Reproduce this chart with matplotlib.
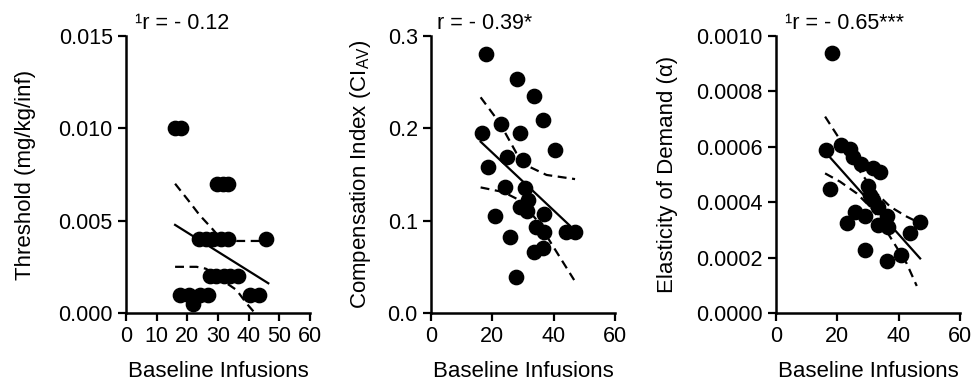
import matplotlib
matplotlib.use('Agg')
import matplotlib.pyplot as plt


plt.rcParams['font.family'] = ['Liberation Sans', 'DejaVu Sans']
plt.rcParams['mathtext.fontset'] = 'custom'
plt.rcParams['mathtext.rm'] = 'Liberation Sans'
plt.rcParams['mathtext.it'] = 'Liberation Sans:italic'


#threshold vs baseline infusions
thr_x = [16, 18, 29.7, 31.5, 33.3,
         23.8, 26, 28.4, 31, 33.3, 45.6,
         27.5, 29.5, 32, 34, 36.5,
         17.6, 20.5, 24, 26.7, 21.9, 40.5, 43.5]
thr_y = [0.010, 0.010, 0.007, 0.007, 0.007,
         0.004, 0.004, 0.004, 0.004, 0.004, 0.004,
         0.002, 0.002, 0.002, 0.002, 0.002,
         0.001, 0.001, 0.001, 0.001, 0.0005, 0.001, 0.001]
thr_fit_x = [16, 46.4]
thr_fit_y = [0.00477, 0.00161]
thr_up_x = [16, 20.3, 24, 27.9, 30, 32, 36, 40, 44, 46]
thr_up_y = [0.0070, 0.0061, 0.0053, 0.0046, 0.0042, 0.0040, 0.0039, 0.0039, 0.0039, 0.0040]
thr_lo_x = [16, 20, 23, 26, 29, 32, 36, 39.4, 42]
thr_lo_y = [0.0025, 0.0025, 0.0025, 0.0024, 0.0021, 0.0017, 0.00125, 0.0005, 0.0]

#compensation index vs baseline infusions
ci_x = [17.8, 27.9, 33.7, 23, 36.4, 16.5, 29, 40.4, 24.7, 30.1, 18.5, 24.3, 30.6,
        31.7, 29.0, 31.2, 21, 36.8, 34.2, 36.8, 44, 47, 25.8, 33.7, 36.6, 27.7]
ci_y = [0.28, 0.253, 0.235, 0.205, 0.209, 0.195, 0.195, 0.177, 0.169, 0.166, 0.158, 0.136, 0.135,
        0.122, 0.115, 0.110, 0.105, 0.107, 0.0935, 0.088, 0.088, 0.088, 0.082, 0.066, 0.070, 0.039]
ci_fit_x = [16.2, 45.3]
ci_fit_y = [0.1855, 0.0946]
ci_up_x = [16.2, 22.5, 27.9, 32.3, 37.7, 47]
ci_up_y = [0.2336, 0.2054, 0.173, 0.158, 0.1495, 0.145]
ci_lo_x = [16.2, 23.6, 29, 34.5, 39.9, 46.7]
ci_lo_y = [0.136, 0.131, 0.122, 0.1007, 0.0718, 0.0357]

#elasticity of demand vs baseline infusions
ela_x = [16.3, 17.6, 21.1, 24.1, 25.2, 27.6, 31.7, 33.9, 30.1, 30.7, 31.7, 33.4,
         25.8, 29, 23, 33.4, 36.1, 36.6, 47, 43.7, 29, 40.7, 36.1, 18.2]
ela_y = [0.000588, 0.000447, 0.000607, 0.000591, 0.000564, 0.000538, 0.000522, 0.000508,
         0.000458, 0.000426, 0.000408, 0.000384, 0.000366, 0.00035, 0.000326, 0.000318,
         0.00035, 0.000312, 0.000327, 0.00029, 0.000227, 0.000209, 0.000189, 0.000937]
ela_fit_x = [16.7, 47]
ela_fit_y = [0.000573, 0.000197]
ela_up_x = [16, 20.9, 26.3, 31.7, 37.2, 42.6, 45.9]
ela_up_y = [0.000709, 0.000625, 0.000528, 0.000444, 0.000384, 0.000348, 0.00033]
ela_lo_x = [16, 20.9, 26.3, 31.7, 37.2, 42.6, 45.9]
ela_lo_y = [0.000504, 0.000474, 0.000432, 0.000372, 0.000275, 0.000179, 0.0000975]


fig = plt.figure(figsize=(9.77, 3.89), dpi=100)
ax1 = fig.add_axes([0.129, 0.1954, 0.1883, 0.7121])
ax2 = fig.add_axes([0.4411, 0.1954, 0.1883, 0.7121])
ax3 = fig.add_axes([0.7943, 0.1954, 0.1883, 0.7121])

fs = 15.5
panels = [
    (ax1, thr_x, thr_y, thr_fit_x, thr_fit_y, thr_up_x, thr_up_y, thr_lo_x, thr_lo_y),
    (ax2, ci_x, ci_y, ci_fit_x, ci_fit_y, ci_up_x, ci_up_y, ci_lo_x, ci_lo_y),
    (ax3, ela_x, ela_y, ela_fit_x, ela_fit_y, ela_up_x, ela_up_y, ela_lo_x, ela_lo_y),
]
for ax, x, y, fx, fy, ux, uy, lx, ly in panels:
    ax.plot(fx, fy, color='black', lw=1.6, zorder=2)
    ax.plot(ux, uy, color='black', lw=1.6, ls=(0, (4, 2.5)), zorder=2)
    ax.plot(lx, ly, color='black', lw=1.6, ls=(0, (4, 2.5)), zorder=2)
    ax.plot(x, y, 'o', color='black', markersize=10.3, zorder=3)
    ax.spines['top'].set_visible(False)
    ax.spines['right'].set_visible(False)
    ax.spines['left'].set_linewidth(1.8)
    ax.spines['bottom'].set_linewidth(1.8)
    ax.tick_params(direction='out', length=6, width=1.6, labelsize=fs)
    ax.set_xlim(0, 60)
    ax.set_xlabel('Baseline Infusions', fontsize=16, labelpad=10)


#axis ranges and ticks
ax1.set_xticks(range(0, 61, 10))
ax1.set_ylim(0, 0.015)
ax1.set_yticks([0, 0.005, 0.010, 0.015])
ax1.set_yticklabels(['0.000', '0.005', '0.010', '0.015'])
ax1.set_ylabel('Threshold (mg/kg/inf)', fontsize=16)
ax1.yaxis.set_label_coords(-0.489, 0.5)

ax2.set_xticks([0, 20, 40, 60])
ax2.set_ylim(0, 0.3)
ax2.set_yticks([0, 0.1, 0.2, 0.3])
ax2.set_yticklabels(['0.0', '0.1', '0.2', '0.3'])
ax2.set_ylabel(r'Compensation Index (CI$_\mathrm{AV}$)', fontsize=16)
ax2.yaxis.set_label_coords(-0.315, 0.5)

ax3.set_xticks([0, 20, 40, 60])
ax3.set_ylim(0, 0.001)
ax3.set_yticks([0, 0.0002, 0.0004, 0.0006, 0.0008, 0.0010])
ax3.set_yticklabels(['0.0000', '0.0002', '0.0004', '0.0006', '0.0008', '0.0010'])
ax3.set_ylabel('Elasticity of Demand (α)', fontsize=16)
ax3.yaxis.set_label_coords(-0.533, 0.5)


#correlation labels
ax1.text(0.049, 1.025, '¹r = - 0.12', transform=ax1.transAxes, fontsize=fs, va='baseline')
ax2.text(0.033, 1.025, 'r = - 0.39*', transform=ax2.transAxes, fontsize=fs, va='baseline')
ax3.text(0.049, 1.025, '¹r = - 0.65***', transform=ax3.transAxes, fontsize=fs, va='baseline')


plt.savefig('out.png', dpi=100)
